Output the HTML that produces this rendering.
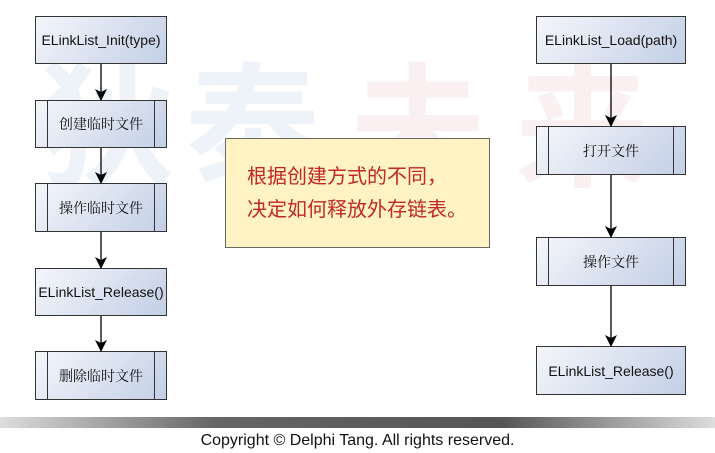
<!DOCTYPE html>
<html><head><meta charset="utf-8"><style>
body{margin:0;width:715px;height:453px;background:#fff;position:relative;overflow:hidden;font-family:"Liberation Sans","Noto Sans CJK SC",sans-serif}
.wm{position:absolute;top:50px;font-size:135px;font-weight:bold;font-family:"Noto Sans CJK SC",sans-serif;line-height:1}
.b{position:absolute;box-sizing:border-box;border:1.5px solid #333;background:linear-gradient(135deg,#f4f6fb,#c3cfe6);display:flex;align-items:center;justify-content:center;font-size:14px;color:#111}
.s::before,.s::after{content:"";position:absolute;top:0;bottom:0;width:11px;border:0 solid #333}
.s::before{left:0;border-right-width:1.5px}
.s::after{right:0;border-left-width:1.5px}
.cn{font-family:"Noto Serif CJK SC",serif;font-size:14px}
svg{position:absolute;left:0;top:0}
</style></head><body>
<div class="wm" style="left:40px;color:#eef2f9">狄</div>
<div class="wm" style="left:185px;color:#eef2f9">泰</div>
<div class="wm" style="left:350px;color:#faf0f2">未</div>
<div class="wm" style="left:515px;color:#faf0f2">来</div>

<div class="b" style="left:35px;top:16px;width:132px;height:48px">ELinkList_Init(type)</div>
<div class="b s cn" style="left:35px;top:100px;width:132px;height:48px">创建临时文件</div>
<div class="b s cn" style="left:35px;top:183px;width:132px;height:49px">操作临时文件</div>
<div class="b" style="left:35px;top:268px;width:132px;height:48px">ELinkList_Release()</div>
<div class="b s cn" style="left:35px;top:351px;width:132px;height:49px">删除临时文件</div>

<div class="b" style="left:536px;top:16px;width:150px;height:48px">ELinkList_Load(path)</div>
<div class="b s cn" style="left:536px;top:126px;width:150px;height:49px">打开文件</div>
<div class="b s cn" style="left:536px;top:237px;width:150px;height:49px">操作文件</div>
<div class="b" style="left:536px;top:346px;width:150px;height:49px">ELinkList_Release()</div>

<div style="position:absolute;left:225px;top:138px;width:265px;height:110px;box-sizing:border-box;border:1.5px solid #666;background:#fff3c4;color:#c0282a;font-size:20px;line-height:33px;padding:19px 0 0 21px;font-family:'Noto Sans CJK SC',sans-serif">根据创建方式的不同，<br>决定如何释放外存链表。</div>

<svg width="715" height="453">
<defs><marker id="a" markerWidth="12" markerHeight="12" refX="11" refY="6" orient="auto" markerUnits="userSpaceOnUse"><path d="M0,0 L12,6 L0,12 L3,6 z" fill="#000"/></marker></defs>
<g stroke="#000" stroke-width="1.3" marker-end="url(#a)">
<line x1="101" y1="64" x2="101" y2="100"/>
<line x1="101" y1="148" x2="101" y2="183"/>
<line x1="101" y1="232" x2="101" y2="268"/>
<line x1="101" y1="316" x2="101" y2="351"/>
<line x1="611" y1="64" x2="611" y2="126"/>
<line x1="611" y1="175" x2="611" y2="237"/>
<line x1="611" y1="286" x2="611" y2="346"/>
</g></svg>

<div style="position:absolute;left:0;top:417px;width:715px;height:11px;background:linear-gradient(90deg,#ddd,#666 30%,#555 70%,#ddd)"></div>
<div style="position:absolute;left:0;top:432px;width:715px;text-align:center;font-size:16px;color:#111">Copyright © Delphi Tang. All rights reserved.</div>
</body></html>
